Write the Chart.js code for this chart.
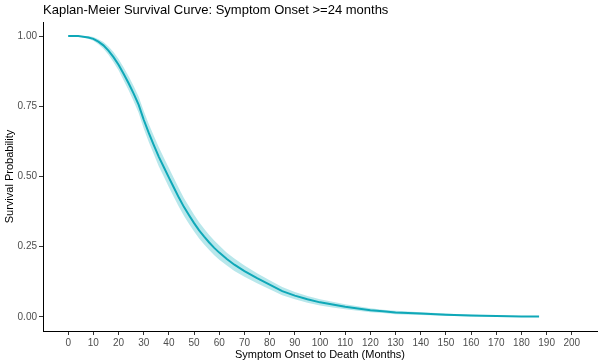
<!DOCTYPE html>
<html>
<head>
<meta charset="utf-8">
<style>
  body { margin: 0; background: #fff; }
</style>
</head>
<body>
<canvas id="km-chart" width="602" height="364"></canvas>

<script src="https://cdn.jsdelivr.net/npm/chart.js"></script>

<script>
  // values
  const months = [0, 4, 8, 10, 12, 14, 16, 18, 20, 22, 24, 26, 28, 30, 32, 34, 36, 38, 40, 42,
    44, 46, 48, 50, 52, 54, 56, 58, 60, 63, 66, 70, 75, 80, 85, 90, 95, 100, 105, 110,
    115, 120, 125, 130, 140, 150, 160, 170, 180, 187]
  const survival = [1.000, 1.000, 0.995, 0.990, 0.980, 0.967, 0.948, 0.925, 0.898, 0.866,
    0.832, 0.795, 0.755, 0.702, 0.655, 0.612, 0.570, 0.533, 0.496, 0.460,
    0.424, 0.391, 0.362, 0.334, 0.308, 0.286, 0.265, 0.246, 0.229, 0.206,
    0.186, 0.163, 0.138, 0.115, 0.092, 0.076, 0.063, 0.052, 0.044, 0.036,
    0.030, 0.024, 0.020, 0.016, 0.012, 0.008, 0.005, 0.003, 0.002, 0.002]
  const lowerCI = [1.000, 0.999, 0.990, 0.983, 0.971, 0.955, 0.933, 0.907, 0.878, 0.843,
    0.807, 0.768, 0.726, 0.671, 0.623, 0.579, 0.536, 0.499, 0.462, 0.426,
    0.391, 0.359, 0.331, 0.304, 0.279, 0.258, 0.238, 0.220, 0.204, 0.183,
    0.164, 0.143, 0.120, 0.099, 0.077, 0.063, 0.051, 0.041, 0.034, 0.027,
    0.022, 0.017, 0.014, 0.010, 0.007, 0.004, 0.002, 0.001, 0.001, 0.001]
  const upperCI = [1.000, 1.000, 1.000, 0.997, 0.989, 0.979, 0.963, 0.943, 0.918, 0.889,
    0.857, 0.822, 0.784, 0.733, 0.687, 0.645, 0.604, 0.567, 0.530, 0.494,
    0.457, 0.423, 0.393, 0.364, 0.337, 0.314, 0.292, 0.272, 0.254, 0.229,
    0.208, 0.183, 0.156, 0.131, 0.107, 0.089, 0.075, 0.063, 0.054, 0.045,
    0.038, 0.031, 0.026, 0.022, 0.017, 0.012, 0.008, 0.005, 0.003, 0.003]

  const xTicks = [0, 10, 20, 30, 40, 50, 60, 70, 80, 90, 100, 110, 120, 130, 140, 150, 160, 170, 180, 190, 200]
  const yTicks = [0, 0.25, 0.5, 0.75, 1]

  const lineColor = '#0fa8b8'
  const bandColor = 'rgba(20, 175, 190, 0.3)'
  const fontFamily = '"Liberation Sans", Arial, sans-serif'

  const toPoints = arr => months.map((m, i) => ({x: m, y: arr[i]}))

  let ctx = document.getElementById('km-chart').getContext('2d');

  const chart = new Chart(ctx, {
    type: 'line',
    data: {
      datasets: [
        {
          label: 'Survival',
          data: toPoints(survival),
          borderColor: lineColor,
          borderWidth: 2,
          pointRadius: 0,
          tension: 0,
          fill: false,
        },
        {
          label: 'Lower',
          data: toPoints(lowerCI),
          borderWidth: 0,
          borderColor: 'transparent',
          pointRadius: 0,
          fill: false,
        },
        {
          label: 'Upper',
          data: toPoints(upperCI),
          borderWidth: 0,
          borderColor: 'transparent',
          backgroundColor: bandColor,
          pointRadius: 0,
          fill: '-1',
        }
      ]
    },
    options: {
      responsive: false,
      animation: false,
      layout: { padding: { top: 0, left: 0, right: 5, bottom: 0 } },
      plugins: {
        legend: { display: false },
        tooltip: { enabled: false },
        title: {
          display: true,
          text: 'Kaplan-Meier Survival Curve: Symptom Onset >=24 months',
          align: 'start',
          fullSize: false,
          color: '#000',
          font: { family: fontFamily, size: 13, weight: 'normal' },
          padding: { top: 3, bottom: 3.4 },
        },
      },
      scales: {
        x: {
          type: 'linear',
          min: -10,
          max: 210,
          afterBuildTicks: axis => { axis.ticks = xTicks.map(v => ({value: v})) },
          afterFit: axis => { axis.height = 33 },
          grid: { drawOnChartArea: false, drawTicks: true, tickLength: 4, color: '#333' },
          border: { display: true, color: '#000', width: 1 },
          ticks: {
            autoSkip: false,
            maxRotation: 0,
            padding: 2,
            color: '#4d4d4d',
            font: { family: fontFamily, size: 10 },
          },
          title: {
            display: true,
            text: 'Symptom Onset to Death (Months)',
            color: '#000',
            font: { family: fontFamily, size: 11 },
            padding: { top: 0, bottom: 2 },
          },
        },
        y: {
          type: 'linear',
          min: -0.05,
          max: 1.05,
          afterBuildTicks: axis => { axis.ticks = yTicks.map(v => ({value: v})) },
          afterFit: axis => { axis.width = 43 },
          grid: { drawOnChartArea: false, drawTicks: true, tickLength: 4, color: '#333' },
          border: { display: true, color: '#000', width: 1 },
          ticks: {
            padding: 2,
            color: '#4d4d4d',
            font: { family: fontFamily, size: 10 },
            callback: v => v.toFixed(2),
          },
          title: {
            display: true,
            text: 'Survival Probability',
            color: '#000',
            font: { family: fontFamily, size: 11 },
            padding: { top: 3, bottom: 0 },
          },
        },
      },
    }
  });
</script>
</body>
</html>
